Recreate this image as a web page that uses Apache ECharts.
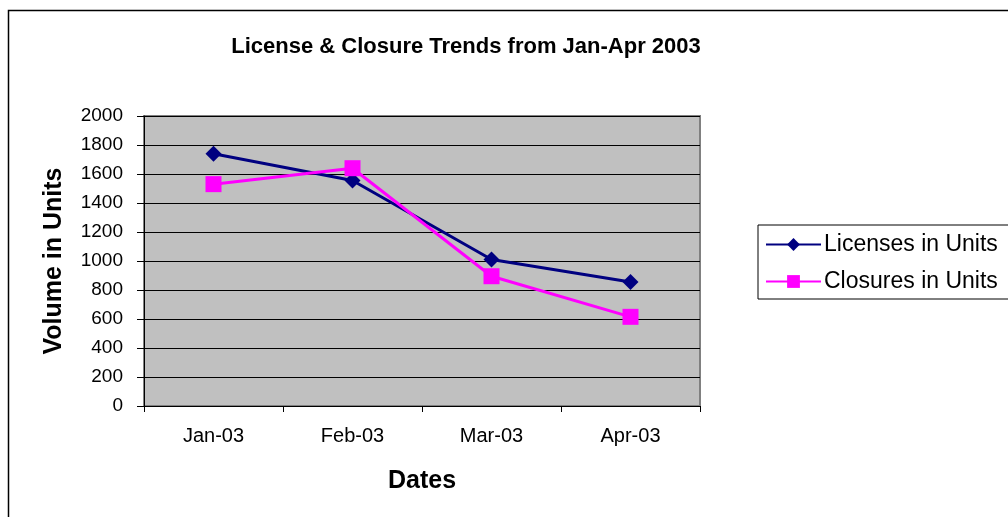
<!DOCTYPE html>
<html>
<head>
<meta charset="utf-8">
<script src="https://cdn.jsdelivr.net/npm/echarts@6/dist/echarts.min.js"></script>
<style>
html,body{margin:0;padding:0;background:#fff;}
#chart{width:1008px;height:517px;}
</style>
</head>
<body>
<div id="chart"></div>
<script>
const categories = ['Jan-03', 'Feb-03', 'Mar-03', 'Apr-03'];
const licenses = [1740, 1555, 1010, 855];
const closures = [1530, 1640, 895, 615];
const yTicks = { min: 0, max: 2000, interval: 200 };

const chart = echarts.init(document.getElementById('chart'), null, { renderer: 'canvas' });
const font = 'Arial, "Liberation Sans", sans-serif';
chart.setOption({
  animation: false,
  backgroundColor: '#fff',
  graphic: [{
    type: 'rect', silent: true, z: -10,
    shape: { x: 8.5, y: 10.5, width: 1100, height: 600 },
    style: { fill: 'none', stroke: '#000', lineWidth: 1.5 }
  }],
  title: {
    text: 'License & Closure Trends from Jan-Apr 2003',
    left: 461, top: 31, textAlign: 'center',
    textStyle: { fontFamily: font, fontSize: 22, fontWeight: 'bold', color: '#000' }
  },
  legend: {
    orient: 'vertical',
    left: 758, top: 225,
    borderColor: '#000', borderWidth: 1,
    padding: [8, 60, 6, 7],
    itemWidth: 55, itemHeight: 16, itemGap: 14,
    textStyle: { fontFamily: font, fontSize: 23, color: '#000', padding: [0,0,0,-2] },
    data: ['Licenses in Units', 'Closures in Units']
  },
  grid: {
    left: 144, right: 308, top: 116, bottom: 111,
    show: true, backgroundColor: '#C0C0C0', borderColor: '#808080', borderWidth: 2
  },
  xAxis: {
    type: 'category', data: categories, boundaryGap: true,
    name: 'Dates', nameLocation: 'middle', nameGap: 63,
    nameTextStyle: { fontFamily: font, fontSize: 25, fontWeight: 'bold', color: '#000' },
    axisLine: { lineStyle: { color: '#000', width: 1 } },
    axisTick: { show: true, inside: false, length: 6, lineStyle: { color: '#000' } },
    axisLabel: { fontFamily: font, fontSize: 20, color: '#000', margin: 20 },
    splitLine: { show: false }
  },
  yAxis: {
    type: 'value', min: yTicks.min, max: yTicks.max, interval: yTicks.interval,
    name: 'Volume in Units', nameLocation: 'middle', nameGap: 77, nameRotate: 90,
    nameTextStyle: { fontFamily: font, fontSize: 25, fontWeight: 'bold', color: '#000' },
    axisLine: { show: true, lineStyle: { color: '#000', width: 1 } },
    axisTick: { show: true, inside: false, length: 7, lineStyle: { color: '#000' } },
    axisLabel: { fontFamily: font, fontSize: 19, color: '#000', margin: 21, formatter: v => String(v) },
    splitLine: { show: true, lineStyle: { color: '#000', width: 1 } }
  },
  series: [{
    name: 'Licenses in Units', type: 'line', data: licenses,
    symbol: 'diamond', symbolSize: 16, showAllSymbol: true,
    itemStyle: { color: '#000080' },
    lineStyle: { color: '#000080', width: 3 }
  }, {
    name: 'Closures in Units', type: 'line', data: closures,
    symbol: 'rect', symbolSize: 16, showAllSymbol: true,
    itemStyle: { color: '#FF00FF' },
    lineStyle: { color: '#FF00FF', width: 3 }
  }]
});
</script>
</body>
</html>
